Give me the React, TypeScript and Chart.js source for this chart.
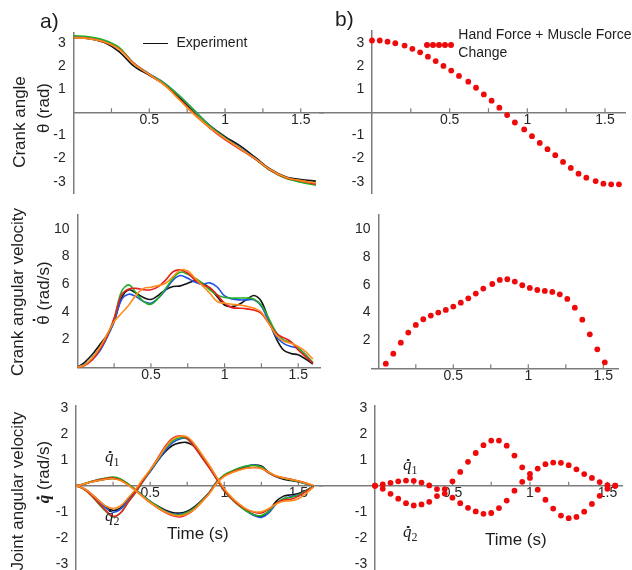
import React, { useEffect, useRef } from 'react';
import { Chart, registerables } from 'chart.js';
Chart.register(...registerables);

// ---------- data ----------
const T_A1 = [0, 0.1, 0.2, 0.3, 0.4, 0.5, 0.6, 0.7, 0.8, 0.9, 1.0, 1.1, 1.2, 1.3, 1.4, 1.5, 1.6];
const A1_BLACK = [3.22, 3.18, 3.02, 2.62, 1.98, 1.6, 1.2, 0.62, 0.02, -0.58, -1.05, -1.45, -1.95, -2.46, -2.78, -2.9, -2.97];
const A1_BLUE = [3.25, 3.22, 3.07, 2.76, 2.1, 1.66, 1.26, 0.7, 0.06, -0.58, -1.1, -1.55, -2.0, -2.5, -2.82, -2.97, -3.08];
const A1_GREEN = [3.3, 3.26, 3.12, 2.8, 2.1, 1.65, 1.25, 0.7, 0.05, -0.6, -1.12, -1.56, -2.02, -2.52, -2.85, -3.02, -3.15];
const A1_RED = [3.23, 3.19, 3.04, 2.74, 2.1, 1.62, 1.18, 0.56, -0.1, -0.68, -1.18, -1.6, -2.02, -2.5, -2.82, -2.96, -3.1];
const A1_ORANGE = [3.22, 3.18, 3.04, 2.72, 2.08, 1.63, 1.17, 0.53, -0.12, -0.66, -1.14, -1.57, -2.0, -2.48, -2.8, -2.95, -3.05];

const T_A = [0, 0.05, 0.1, 0.15, 0.2, 0.25, 0.3, 0.35, 0.4, 0.45, 0.5, 0.55, 0.6, 0.65, 0.7, 0.75, 0.8, 0.85, 0.9, 0.95, 1.0, 1.05, 1.1, 1.15, 1.2, 1.25, 1.3, 1.35, 1.4, 1.45, 1.5, 1.55, 1.6];
const A2_BLACK = [0, 0.36, 0.9, 1.6, 2.3, 3.3, 5.0, 5.6, 5.35, 5.04, 4.9, 5.2, 5.6, 5.83, 5.88, 6.07, 6.24, 6.07, 5.7, 5.1, 4.5, 4.38, 4.55, 4.9, 5.18, 4.75, 3.42, 2.1, 1.25, 1.0, 0.9, 0.6, 0.24];
const A2_BLUE = [0, 0.2, 0.53, 1.13, 2.1, 3.3, 4.87, 5.28, 5.1, 4.75, 4.63, 5.0, 5.6, 6.3, 6.63, 6.43, 6.15, 6.0, 6.1, 5.8, 5.15, 4.94, 4.87, 4.87, 4.87, 4.4, 3.3, 2.22, 1.73, 1.5, 1.37, 0.9, 0.29];
const A2_GREEN = [0, 0.17, 0.65, 1.37, 2.2, 3.5, 5.47, 5.95, 5.35, 4.75, 4.55, 5.0, 5.7, 6.43, 6.87, 6.72, 6.43, 6.07, 5.6, 5.23, 5.04, 5.0, 5.0, 5.0, 4.92, 4.5, 3.54, 2.53, 1.98, 1.8, 1.37, 0.9, 0.36];
const A2_RED = [0, 0.12, 0.53, 1.25, 2.2, 3.54, 5.23, 5.66, 5.7, 5.6, 5.6, 5.83, 6.3, 6.9, 7.03, 6.8, 6.3, 5.95, 5.76, 5.23, 4.63, 4.31, 4.27, 4.22, 4.14, 3.9, 3.18, 2.46, 2.14, 1.86, 1.25, 0.77, 0.29];
const A2_ORANGE = [0, 0.17, 0.65, 1.37, 2.34, 3.3, 3.9, 4.5, 5.23, 5.7, 5.78, 5.9, 6.07, 6.55, 7.03, 6.96, 6.43, 5.9, 5.35, 4.75, 4.63, 4.55, 4.5, 4.4, 4.27, 3.98, 3.18, 2.34, 1.9, 1.73, 1.5, 1.13, 0.6];

const A3_Q1_BLACK = [0, 0.06, 0.14, 0.2, 0.25, 0.28, 0.22, 0.06, -0.15, -0.38, -0.6, -0.78, -0.93, -1.03, -1.05, -0.98, -0.8, -0.55, -0.25, 0.15, 0.38, 0.52, 0.64, 0.74, 0.8, 0.76, 0.52, 0.35, 0.25, 0.2, 0.15, 0.08, 0.0];
const A3_Q1_BLUE = [0, 0.06, 0.15, 0.22, 0.28, 0.3, 0.24, 0.06, -0.15, -0.38, -0.6, -0.8, -0.97, -1.08, -1.1, -1.02, -0.85, -0.58, -0.25, 0.15, 0.4, 0.55, 0.67, 0.76, 0.8, 0.72, 0.5, 0.36, 0.3, 0.24, 0.16, 0.08, 0.0];
const A3_Q1_GREEN = [0, 0.07, 0.16, 0.24, 0.3, 0.33, 0.26, 0.08, -0.14, -0.38, -0.6, -0.8, -0.98, -1.1, -1.12, -1.03, -0.85, -0.58, -0.26, 0.15, 0.42, 0.56, 0.68, 0.76, 0.78, 0.72, 0.5, 0.36, 0.3, 0.22, 0.16, 0.08, 0.0];
const A3_Q1_RED = [0, 0.06, 0.15, 0.22, 0.28, 0.3, 0.22, 0.04, -0.18, -0.42, -0.65, -0.85, -1.02, -1.15, -1.2, -1.1, -0.9, -0.6, -0.28, 0.12, 0.38, 0.52, 0.62, 0.68, 0.7, 0.66, 0.5, 0.36, 0.3, 0.25, 0.18, 0.1, 0.0];
const A3_Q1_ORANGE = [0, 0.06, 0.14, 0.2, 0.25, 0.27, 0.2, 0.03, -0.18, -0.42, -0.64, -0.84, -1.0, -1.12, -1.16, -1.08, -0.9, -0.62, -0.3, 0.1, 0.36, 0.5, 0.6, 0.67, 0.7, 0.66, 0.52, 0.38, 0.3, 0.24, 0.18, 0.1, 0.02];
const A3_Q2_BLACK = [0, -0.1, -0.3, -0.55, -0.8, -0.95, -0.85, -0.5, -0.2, 0.2, 0.55, 0.95, 1.3, 1.55, 1.65, 1.66, 1.5, 1.1, 0.7, 0.25, -0.2, -0.5, -0.75, -0.95, -1.12, -1.18, -0.98, -0.6, -0.4, -0.35, -0.3, -0.18, -0.03];
const A3_Q2_BLUE = [0, -0.1, -0.32, -0.6, -0.85, -1.02, -0.9, -0.58, -0.25, 0.15, 0.55, 0.95, 1.35, 1.65, 1.8, 1.82, 1.55, 1.15, 0.75, 0.3, -0.15, -0.48, -0.75, -0.98, -1.15, -1.22, -1.05, -0.7, -0.5, -0.42, -0.35, -0.2, -0.03];
const A3_Q2_GREEN = [0, -0.12, -0.36, -0.68, -0.98, -1.2, -1.05, -0.65, -0.28, 0.15, 0.58, 1.0, 1.42, 1.72, 1.85, 1.8, 1.5, 1.1, 0.7, 0.25, -0.2, -0.52, -0.78, -0.98, -1.12, -1.15, -0.98, -0.68, -0.5, -0.45, -0.36, -0.2, -0.03];
const A3_Q2_RED = [0, -0.12, -0.35, -0.65, -0.95, -1.18, -1.05, -0.65, -0.25, 0.18, 0.6, 1.05, 1.5, 1.82, 1.92, 1.82, 1.48, 1.08, 0.68, 0.25, -0.18, -0.5, -0.75, -0.92, -1.02, -1.05, -0.9, -0.68, -0.55, -0.52, -0.4, -0.22, -0.04];
const A3_Q2_ORANGE = [0, -0.1, -0.3, -0.55, -0.78, -0.88, -0.78, -0.48, -0.15, 0.25, 0.62, 1.02, 1.45, 1.78, 1.9, 1.88, 1.6, 1.2, 0.78, 0.32, -0.12, -0.45, -0.7, -0.9, -1.0, -1.0, -0.88, -0.7, -0.6, -0.58, -0.5, -0.3, -0.05];

const B1_T = [0, 0.05, 0.10, 0.15, 0.21, 0.26, 0.31, 0.36, 0.41, 0.46, 0.51, 0.56, 0.62, 0.67, 0.72, 0.77, 0.82, 0.87, 0.92, 0.98, 1.03, 1.08, 1.13, 1.18, 1.23, 1.28, 1.33, 1.38, 1.44, 1.49, 1.54, 1.59];
const B1_ANGLE = [3.1, 3.1, 3.05, 2.98, 2.88, 2.74, 2.59, 2.4, 2.21, 2.0, 1.8, 1.57, 1.32, 1.06, 0.77, 0.5, 0.2, -0.12, -0.44, -0.74, -1.03, -1.32, -1.59, -1.85, -2.14, -2.4, -2.65, -2.82, -2.97, -3.08, -3.11, -3.11];

const B2_T = [0.05, 0.10, 0.15, 0.20, 0.25, 0.30, 0.35, 0.40, 0.45, 0.50, 0.55, 0.60, 0.65, 0.70, 0.76, 0.81, 0.86, 0.91, 0.96, 1.01, 1.06, 1.11, 1.16, 1.21, 1.26, 1.31, 1.36, 1.41, 1.46, 1.51];
const B2_VEL = [0.33, 1.05, 1.84, 2.56, 3.11, 3.52, 3.78, 4.0, 4.19, 4.43, 4.71, 5.02, 5.36, 5.72, 6.05, 6.34, 6.39, 6.22, 5.96, 5.77, 5.62, 5.55, 5.48, 5.31, 4.98, 4.35, 3.49, 2.44, 1.36, 0.43];

const B3_T = [0, 0.05, 0.1, 0.15, 0.2, 0.25, 0.3, 0.35, 0.4, 0.45, 0.5, 0.55, 0.6, 0.65, 0.7, 0.75, 0.8, 0.85, 0.9, 0.95, 1.0, 1.05, 1.1, 1.15, 1.2, 1.25, 1.3, 1.35, 1.4, 1.45, 1.5, 1.55];
const B3_Q1 = [0, 0.05, 0.11, 0.17, 0.2, 0.19, 0.12, 0.01, -0.13, -0.3, -0.46, -0.67, -0.85, -0.99, -1.08, -1.05, -0.86, -0.57, -0.19, 0.15, 0.46, 0.66, 0.83, 0.89, 0.88, 0.79, 0.63, 0.45, 0.3, 0.14, 0.02, 0];
const B3_Q2 = [0, -0.12, -0.31, -0.5, -0.67, -0.76, -0.72, -0.62, -0.4, -0.13, 0.17, 0.53, 0.92, 1.26, 1.56, 1.74, 1.74, 1.54, 1.16, 0.71, 0.3, -0.15, -0.54, -0.88, -1.15, -1.25, -1.2, -1.0, -0.7, -0.39, -0.12, 0];

const X_TICKS = [0.5, 1, 1.5];
const MINOR_TICKS = [0.25, 0.5, 0.75, 1, 1.25, 1.5];
const Y_TICKS_ANGLE = [-3, -2, -1, 1, 2, 3];
const Y_TICKS_VEL = [2, 4, 6, 8, 10];
const Y_TICKS_Q = [-3, -2, -1, 1, 2, 3];

// ---------- style ----------
const W = 632;
const H = 600;
const FONT = '"Liberation Sans", Arial, Helvetica, sans-serif';
const SERIF = '"Liberation Serif", "Times New Roman", serif';
const AXIS = '#7c7c7c';
const TICKC = '#262626';
const TXT = '#1e1e1e';
const DOT = '#ee0a0a';
const C_BLACK = '#141414';
const C_BLUE = '#2352e6';
const C_GREEN = '#22b022';
const C_RED = '#e8201e';
const C_ORANGE = '#ff8c1a';

const pts = (ts: number[], vs: number[]) => ts.map((t, i) => ({ x: t, y: vs[i] }));
const line = (ts: number[], vs: number[], color: string) => ({
  data: pts(ts, vs), borderColor: color, backgroundColor: color, borderWidth: 1.6,
  pointRadius: 0, tension: 0.35, fill: false, clip: false,
});
const dots = (ts: number[], vs: number[]) => ({
  data: pts(ts, vs), showLine: false, pointRadius: 2.9, pointBackgroundColor: DOT,
  pointBorderWidth: 0, borderColor: DOT, backgroundColor: DOT, clip: false,
});

const minorTicks = {
  id: 'minorTicks',
  beforeDatasetsDraw(chart: any) {
    const xs = chart.scales.x;
    const ys = chart.scales.y;
    const y0 = ys.getPixelForValue(0);
    const ctx = chart.ctx;
    ctx.save();
    ctx.strokeStyle = AXIS;
    ctx.lineWidth = 1.2;
    ctx.beginPath();
    for (const v of MINOR_TICKS) {
      const x = xs.getPixelForValue(v);
      ctx.moveTo(x, y0);
      ctx.lineTo(x, y0 - 4);
    }
    ctx.stroke();
    ctx.restore();
  },
};

type PanelSpec = {
  L: number; R: number; T: number; B: number;
  xMin: number; xMax: number; yMin: number; yMax: number;
  yTicks: number[]; datasets: () => any[];
};

function makeConfig(p: PanelSpec): any {
  const tickFont = { family: FONT, size: 14, lineHeight: 1.1 };
  return {
    type: 'line',
    data: { datasets: p.datasets() },
    options: {
      responsive: false, maintainAspectRatio: false, animation: false, devicePixelRatio: 1,
      events: [],
      layout: { autoPadding: false, padding: { left: p.L, top: p.T, right: W - p.R, bottom: H - p.B } },
      plugins: { legend: { display: false }, tooltip: { enabled: false }, title: { display: false } },
      scales: {
        x: {
          type: 'linear', min: p.xMin, max: p.xMax, position: { y: 0 },
          grid: { display: false, drawTicks: false },
          border: { display: true, color: AXIS, width: 1.5 },
          ticks: { padding: 0, color: TICKC, font: tickFont, autoSkip: false, maxRotation: 0, callback: (v: number) => String(v) },
          afterBuildTicks: (s: any) => { s.ticks = X_TICKS.map((v) => ({ value: v })); },
          afterFit: (s: any) => { s.height = 0; },
        },
        y: {
          type: 'linear', min: p.yMin, max: p.yMax, position: { x: 0 },
          grid: { display: false, drawTicks: false },
          border: { display: true, color: AXIS, width: 1.5 },
          ticks: { padding: 0, color: TICKC, font: tickFont, autoSkip: false, callback: (v: number) => `${v}  ` },
          afterBuildTicks: (s: any) => { s.ticks = p.yTicks.map((v) => ({ value: v })); },
          afterFit: (s: any) => { s.width = 0; },
        },
      },
    },
    plugins: [minorTicks],
  };
}

// datasets listed top-most first (Chart.js paints the first dataset last)
const PANELS: PanelSpec[] = [
  { // a1 crank angle
    L: 73.6, R: 323, T: 33, B: 193, xMin: 0, xMax: 1.647, yMin: -3.483, yMax: 3.422, yTicks: Y_TICKS_ANGLE,
    datasets: () => [line(T_A1, A1_ORANGE, C_ORANGE), line(T_A1, A1_RED, C_RED), line(T_A1, A1_GREEN, C_GREEN), line(T_A1, A1_BLUE, C_BLUE), line(T_A1, A1_BLACK, C_BLACK)],
  },
  { // b1
    L: 320, R: 625, T: 31, B: 193, xMin: -0.3348, xMax: 1.629, yMin: -3.483, yMax: 3.509, yTicks: Y_TICKS_ANGLE,
    datasets: () => [dots(B1_T, B1_ANGLE)],
  },
  { // a2 crank angular velocity
    L: 77.3, R: 320, T: 215, B: 367.3, xMin: 0, xMax: 1.648, yMin: 0, yMax: 11.0, yTicks: Y_TICKS_VEL,
    datasets: () => [line(T_A, A2_ORANGE, C_ORANGE), line(T_A, A2_RED, C_RED), line(T_A, A2_GREEN, C_GREEN), line(T_A, A2_BLUE, C_BLUE), line(T_A, A2_BLACK, C_BLACK)],
  },
  { // b2
    L: 371.7, R: 618, T: 215, B: 368.3, xMin: -0.044, xMax: 1.598, yMin: 0, yMax: 11.0, yTicks: Y_TICKS_VEL,
    datasets: () => [dots(B2_T, B2_VEL)],
  },
  { // a3 joint angular velocity
    L: 76, R: 322, T: 406, B: 575, xMin: 0, xMax: 1.659, yMin: -3.436, yMax: 3.069, yTicks: Y_TICKS_Q,
    datasets: () => [
      line(T_A, A3_Q1_ORANGE, C_ORANGE), line(T_A, A3_Q2_ORANGE, C_ORANGE),
      line(T_A, A3_Q1_RED, C_RED), line(T_A, A3_Q2_RED, C_RED),
      line(T_A, A3_Q1_GREEN, C_GREEN), line(T_A, A3_Q2_GREEN, C_GREEN),
      line(T_A, A3_Q1_BLUE, C_BLUE), line(T_A, A3_Q2_BLUE, C_BLUE),
      line(T_A, A3_Q1_BLACK, C_BLACK), line(T_A, A3_Q2_BLACK, C_BLACK),
    ],
  },
  { // b3
    L: 320, R: 622, T: 406, B: 575, xMin: -0.355, xMax: 1.594, yMin: -3.436, yMax: 3.069, yTicks: Y_TICKS_Q,
    datasets: () => [dots(B3_T, B3_Q1), dots(B3_T, B3_Q2)],
  },
];

function ChartLayer({ spec }: { spec: PanelSpec }) {
  const ref = useRef<HTMLCanvasElement | null>(null);
  useEffect(() => {
    if (!ref.current) return;
    const c = new Chart(ref.current, makeConfig(spec));
    return () => c.destroy();
  }, [spec]);
  return <canvas ref={ref} width={W} height={H} style={{ position: 'absolute', left: 0, top: 0, width: W, height: H }} />;
}

const abs = (left: number, top: number, size: number, extra: any = {}): any => ({
  position: 'absolute', left, top, fontSize: size, lineHeight: `${size}px`, whiteSpace: 'nowrap', color: TXT, ...extra,
});
const rot = (cx: number, cy: number): any => ({
  position: 'absolute', left: cx, top: cy, fontSize: 17, lineHeight: '17px', whiteSpace: 'nowrap', color: TXT,
  transform: 'translate(-50%, -50%) rotate(-90deg)',
});

function Dotted({ ch, top = -1.5, dx = 0, style = {} }: { ch: string; top?: number; dx?: number; style?: any }) {
  return (
    <span style={{ position: 'relative', display: 'inline-block', ...style }}>
      {ch}
      <span style={{ position: 'absolute', left: `calc(50% + ${dx}px)`, top, width: 2.6, height: 2.6, borderRadius: '50%', background: TXT, transform: 'translateX(-50%)' }} />
    </span>
  );
}

function QLabel({ left, top, sub }: { left: number; top: number; sub: string }) {
  return (
    <div style={abs(left, top, 17, { fontFamily: SERIF, fontStyle: 'italic' })}>
      <Dotted ch="q" top={2.5} dx={1} />
      <span style={{ fontStyle: 'normal', fontSize: 12, verticalAlign: '-4px' }}>{sub}</span>
    </div>
  );
}

export default function App() {
  return (
    <div style={{ position: 'fixed', left: 0, top: 0, width: 632, height: 570, overflow: 'hidden', background: '#fff', fontFamily: FONT }}>
      {PANELS.map((p, i) => <ChartLayer key={i} spec={p} />)}

      <div style={abs(40, 10, 21)}>a)</div>
      <div style={abs(335, 8, 21)}>b)</div>

      <div style={{ position: 'absolute', left: 143, top: 42.5, width: 25, height: 1.6, background: '#111' }} />
      <div style={abs(176.5, 34.8, 14)}>Experiment</div>

      {[427.3, 433.3, 439.3, 445.3, 451.2].map((x, i) => (
        <div key={i} style={{ position: 'absolute', left: x - 2.9, top: 45 - 2.9, width: 5.8, height: 5.8, borderRadius: '50%', background: DOT }} />
      ))}
      <div style={abs(458.3, 27.4, 14)}>Hand Force + Muscle Force</div>
      <div style={abs(458.3, 45.1, 14)}>Change</div>

      <div style={rot(18.5, 122)}>Crank angle</div>
      <div style={rot(43, 107.5)}>{'\u03b8 (rad)'}</div>
      <div style={rot(17, 291.5)}>Crank angular velocity</div>
      <div style={rot(43, 292.5)}><Dotted ch={'\u03b8'} top={-2} />{' (rad/s)'}</div>
      <div style={rot(17, 491)}>Joint angular velocity</div>
      <div style={rot(43, 471.5)}>
        <Dotted ch="q" top={2} dx={1} style={{ fontFamily: SERIF, fontStyle: 'italic', fontWeight: 'bold' }} />{' (rad/s)'}
      </div>

      <div style={abs(167, 524.7, 17)}>Time (s)</div>
      <div style={abs(485, 530.7, 17)}>Time (s)</div>

      <QLabel left={105} top={448} sub="1" />
      <QLabel left={105} top={507} sub="2" />
      <QLabel left={403} top={456} sub="1" />
      <QLabel left={403} top={523} sub="2" />
    </div>
  );
}
